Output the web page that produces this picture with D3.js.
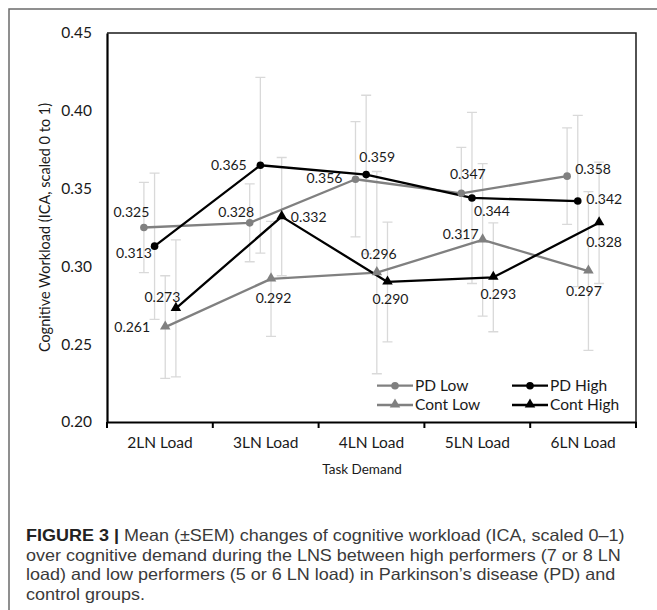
<!DOCTYPE html>
<html><head><meta charset="utf-8">
<script src="https://cdn.jsdelivr.net/npm/d3@7"></script>
<style>body{margin:0;background:#fff}svg{display:block}</style>
</head><body>
<svg id="c" width="657" height="610"></svg>
<script>
// ---------------- data ----------------
const categories = ["2LN Load", "3LN Load", "4LN Load", "5LN Load", "6LN Load"];
const seriesNames = ["PD Low", "PD High", "Cont Low", "Cont High"];
const pdLow      = [0.325, 0.328, 0.356, 0.347, 0.358];
const pdHigh     = [0.313, 0.365, 0.359, 0.344, 0.342];
const contLow    = [0.261, 0.292, 0.296, 0.317, 0.297];
const contHigh   = [0.273, 0.332, 0.290, 0.293, 0.328];
const pdLowSem   = [0.029, 0.025, 0.037, 0.0295, 0.031];
const pdHighSem  = [0.047, 0.0565, 0.051, 0.055, 0.055];
const contLowSem = [0.033, 0.037, 0.065, 0.049, 0.051];
const contHighSem= [0.044, 0.038, 0.0385, 0.035, 0.039];
const yTicks = [0.20, 0.25, 0.30, 0.35, 0.40, 0.45];
const xTitle = "Task Demand";
const yTitle = "Cognitive Workload (ICA, scaled 0 to 1)";
const captionBold = "FIGURE 3 |";
const captionLines = [
  " Mean (\u00B1SEM) changes of cognitive workload (ICA, scaled 0\u20131)",
  "over cognitive demand during the LNS between high performers (7 or 8 LN",
  "load) and low performers (5 or 6 LN load) in Parkinson\u2019s disease (PD) and",
  "control groups."
];

// ---------------- layout / style ----------------
const plot = {left: 107, right: 636, top: 33, bottom: 422};
const chartFont = "Lato, 'Open Sans', sans-serif";
const seriesStyle = {
  "PD Low":    {color: "#808080", shape: "circle"},
  "PD High":   {color: "#000000", shape: "circle"},
  "Cont Low":  {color: "#808080", shape: "triangle"},
  "Cont High": {color: "#000000", shape: "triangle"}
};
// label offsets (dx, dy) from each point, per series per category
const labelOffsets = {
  "PD Low":    [[-12.5,-15.6],[-13.5,-10.5],[-31,-1.5],[6.5,-19],[26,-6.7]],
  "PD High":   [[-20.6,6.7],[-31.5,0],[11,-17.7],[20,12.7],[26.5,-2]],
  "Cont Low":  [[-33,0],[2.5,19],[2,-18.6],[-22,-6],[-4.5,20]],
  "Cont High": [[-13.5,-11.3],[27,0],[3,17],[5,17],[5,19.5]]
};

const seriesData = {
  "PD Low": {vals: pdLow, sem: pdLowSem},
  "PD High": {vals: pdHigh, sem: pdHighSem},
  "Cont Low": {vals: contLow, sem: contLowSem},
  "Cont High": {vals: contHigh, sem: contHighSem}
};

const svg = d3.select("#c");

// outer figure frame
svg.append("path").attr("d", "M9,610V9H657").attr("fill", "none")
  .attr("stroke", "#6b6b6b").attr("stroke-width", 1.5);

const x = d3.scaleBand().domain(categories).range([plot.left, plot.right]);
const off = d3.scalePoint().domain(seriesNames).range([-16, 16]);
const y = d3.scaleLinear().domain([0.20, 0.45]).range([plot.bottom, plot.top]);
const px = (s, c) => x(c) + x.bandwidth() / 2 + off(s);

// plot area border (top & right)
svg.append("path")
  .attr("d", `M${plot.left},${plot.top}H${plot.right}V${plot.bottom}`)
  .attr("fill", "none").attr("stroke", "#1a1a1a").attr("stroke-width", 1.5);

// error bars
const eb = svg.append("g").attr("stroke", "#d9d9d9").attr("stroke-width", 1.3).attr("fill", "none");
seriesNames.forEach(s => {
  const d = seriesData[s];
  categories.forEach((c, i) => {
    const cx = px(s, c), hi = y(d.vals[i] + d.sem[i]), lo = y(d.vals[i] - d.sem[i]);
    eb.append("path").attr("d", `M${cx},${hi}V${lo}M${cx-5},${hi}H${cx+5}M${cx-5},${lo}H${cx+5}`);
  });
});

// axes
const yAxis = svg.append("g").attr("transform", `translate(${plot.left},0)`)
  .call(d3.axisLeft(y).tickValues(yTicks).tickFormat(d3.format(".2f")).tickSize(0).tickPadding(15));
yAxis.select(".domain").attr("stroke", "#000").attr("stroke-width", 2.2);
yAxis.selectAll("text").attr("font-family", chartFont).attr("font-size", 15.5).attr("fill", "#1a1a1a");

const xAxis = svg.append("g").attr("transform", `translate(0,${plot.bottom})`)
  .call(d3.axisBottom(x).tickSize(0).tickSizeOuter(0));
xAxis.select(".domain").attr("stroke", "#000").attr("stroke-width", 2.2);
xAxis.selectAll("text").attr("font-family", chartFont).attr("font-size", 15.5)
  .attr("fill", "#1a1a1a").attr("y", 21).attr("dy", "0.35em");
// boundary ticks
const bounds = categories.map(c => x(c)).concat([x(categories[categories.length - 1]) + x.bandwidth()]);
svg.append("g").selectAll("line").data(bounds).join("line")
  .attr("x1", d => d).attr("x2", d => d).attr("y1", plot.bottom).attr("y2", plot.bottom + 6)
  .attr("stroke", "#000").attr("stroke-width", 2);

// axis titles
svg.append("text").attr("x", 362).attr("y", 469).attr("dy", "0.35em")
  .attr("text-anchor", "middle").attr("font-family", chartFont).attr("font-size", 13.5)
  .attr("fill", "#1a1a1a").text(xTitle);
svg.append("text").attr("transform", `translate(45,${(plot.top + plot.bottom) / 2}) rotate(-90)`)
  .attr("dy", "0.35em").attr("text-anchor", "middle").attr("font-family", chartFont)
  .attr("font-size", 14.5).attr("fill", "#1a1a1a").text(yTitle);

// lines
const line = d3.line();
const tri = d3.symbol(d3.symbolTriangle, 48);
function marker(g, shape, color, cx, cy) {
  if (shape === "circle") g.append("circle").attr("cx", cx).attr("cy", cy).attr("r", 3.8).attr("fill", color);
  else g.append("path").attr("d", tri()).attr("transform", `translate(${cx},${cy - 0.5})`).attr("fill", color);
}
seriesNames.forEach(s => {
  const d = seriesData[s], st = seriesStyle[s];
  svg.append("path").attr("d", line(categories.map((c, i) => [px(s, c), y(d.vals[i])])))
    .attr("fill", "none").attr("stroke", st.color).attr("stroke-width", 2.3).attr("stroke-linejoin", "round");
});
seriesNames.forEach(s => {
  const d = seriesData[s], st = seriesStyle[s];
  const g = svg.append("g");
  categories.forEach((c, i) => marker(g, st.shape, st.color, px(s, c), y(d.vals[i])));
});

// data labels
seriesNames.forEach(s => {
  const d = seriesData[s];
  categories.forEach((c, i) => {
    const [dx, dy] = labelOffsets[s][i];
    svg.append("text").attr("x", px(s, c) + dx).attr("y", y(d.vals[i]) + dy).attr("dy", "0.35em")
      .attr("text-anchor", "middle").attr("font-family", chartFont).attr("font-size", 14)
      .attr("fill", "#1a1a1a").text(d3.format(".3f")(d.vals[i]));
  });
});

// legend
const legendPos = {"PD Low": [377, 385.7], "PD High": [512, 385.7], "Cont Low": [377, 405], "Cont High": [512, 405]};
seriesNames.forEach(s => {
  const st = seriesStyle[s], [lx, ly] = legendPos[s];
  const g = svg.append("g");
  g.append("line").attr("x1", lx).attr("x2", lx + 36).attr("y1", ly).attr("y2", ly)
    .attr("stroke", st.color).attr("stroke-width", 2.3);
  marker(g, st.shape, st.color, lx + 18, ly);
  g.append("text").attr("x", lx + 38).attr("y", ly).attr("dy", "0.35em")
    .attr("font-family", chartFont).attr("font-size", 15.5).attr("fill", "#1a1a1a").text(s);
});

// caption
const capFont = "'Liberation Sans Narrow', 'Liberation Sans', Arial, sans-serif";
const cap = svg.append("g");
const baselines = [541.5, 561, 580.5, 600];
captionLines.forEach((t, i) => {
  const tx = cap.append("text").attr("x", 0).attr("y", baselines[i])
    .attr("font-family", capFont).attr("font-size", 16.5).attr("fill", "#3a3a3a");
  if (i === 0) tx.append("tspan").attr("font-weight", "bold").attr("fill", "#222").text(captionBold);
  tx.append("tspan").text(t);
});
const w0 = cap.select("text").node().getComputedTextLength();
const sx = 599 / w0;
cap.attr("transform", `translate(26,0) scale(${sx},1)`);
</script>
</body></html>
